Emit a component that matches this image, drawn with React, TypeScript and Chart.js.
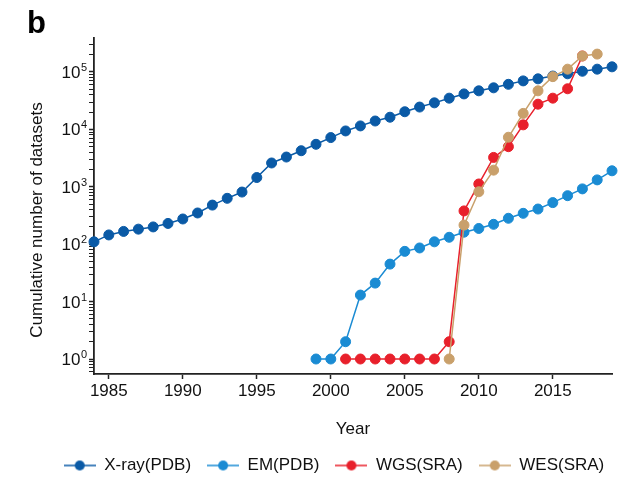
import React, { useEffect, useRef } from 'react';
import { Chart, registerables } from 'chart.js';

Chart.register(...registerables);

// ---------- data ----------
const years = [
  1984, 1985, 1986, 1987, 1988, 1989, 1990, 1991, 1992, 1993, 1994, 1995,
  1996, 1997, 1998, 1999, 2000, 2001, 2002, 2003, 2004, 2005, 2006, 2007,
  2008, 2009, 2010, 2011, 2012, 2013, 2014, 2015, 2016, 2017, 2018, 2019,
];

const xrayPDB = [
  110, 145, 167, 183, 200, 230, 275, 350, 480, 630, 810, 1450,
  2600, 3300, 4250, 5500, 7200, 9400, 11500, 14000, 16300, 20300, 24500, 29000,
  35000, 41500, 47000, 53000, 61000, 70000, 76000, 85000, 93000, 103000, 112000, 123000,
];

const emPDB = [
  null, null, null, null, null, null, null, null, null, null, null, null,
  null, null, null, 1, 1, 2, 13, 21, 45, 75, 86, 110,
  132, 162, 188, 222, 283, 345, 410, 530, 700, 920, 1320, 1900,
];

const wgsSRA = [
  null, null, null, null, null, null, null, null, null, null, null, null,
  null, null, null, null, null, 1, 1, 1, 1, 1, 1, 1,
  2, 380, 1120, 3250, 5000, 12000, 27500, 35000, 51000, 190000, null, null,
];

const wesSRA = [
  null, null, null, null, null, null, null, null, null, null, null, null,
  null, null, null, null, null, null, null, null, null, null, null, null,
  1, 215, 820, 1950, 7300, 19000, 47000, 83000, 112000, 190000, 205000, null,
];

const seriesNames = ['X-ray(PDB)', 'EM(PDB)', 'WGS(SRA)', 'WES(SRA)'];
const seriesColors = ['#0a5aa6', '#1a8bd3', '#e8202b', '#c9a06b'];

const xTickValues = [1985, 1990, 1995, 2000, 2005, 2010, 2015];
const yTickBase = '10';
const yTickExponents = ['0', '1', '2', '3', '4', '5'];

const xTitle = 'Year';
const yTitle = 'Cumulative number of datasets';
const panelLabel = 'b';

const FONT = '"Liberation Sans", Arial, Helvetica, sans-serif';

function toPoints(vals: (number | null)[]) {
  const out: { x: number; y: number }[] = [];
  vals.forEach((v, i) => {
    if (v !== null) out.push({ x: years[i], y: v });
  });
  return out;
}

function legendIcon(color: string) {
  const c = document.createElement('canvas');
  c.width = 32;
  c.height = 12;
  const ctx = c.getContext('2d')!;
  ctx.strokeStyle = color;
  ctx.lineWidth = 1.5;
  ctx.beginPath();
  ctx.moveTo(0, 6);
  ctx.lineTo(32, 6);
  ctx.stroke();
  ctx.fillStyle = color;
  ctx.beginPath();
  ctx.arc(16, 6, 5, 0, Math.PI * 2);
  ctx.fill();
  return c;
}

const extrasPlugin = {
  id: 'extras',
  afterLayout(chart: any) {
    const lg = chart.legend;
    if (lg) {
      lg.top += 5;
      lg.bottom += 5;
      lg.left += 28;
      lg.right += 28;
    }
  },
  afterDraw(chart: any) {
    const ctx = chart.ctx;
    const ca = chart.chartArea;
    const ys = chart.scales.y;
    ctx.save();
    // panel letter
    ctx.fillStyle = '#000';
    ctx.font = `bold 31px ${FONT}`;
    ctx.textAlign = 'left';
    ctx.textBaseline = 'alphabetic';
    ctx.fillText(panelLabel, 27, 33);

    // y tick labels: 10^n with raised exponent
    const right = ca.left - 7;
    ctx.fillStyle = '#111';
    yTickExponents.forEach((ex) => {
      const py = ys.getPixelForValue(Math.pow(10, Number(ex)));
      ctx.font = `11px ${FONT}`;
      const ew = ctx.measureText(ex).width;
      ctx.textAlign = 'left';
      ctx.fillText(ex, right - ew, py - 1);
      ctx.font = `17px ${FONT}`;
      ctx.textAlign = 'right';
      ctx.fillText(yTickBase, right - ew - 0.5, py + 6);
    });

    // y title
    ctx.translate(37, (ca.top + ca.bottom) / 2 + 14);
    ctx.rotate(-Math.PI / 2);
    ctx.font = `17px ${FONT}`;
    ctx.fillStyle = '#111';
    ctx.textAlign = 'center';
    ctx.textBaseline = 'middle';
    ctx.fillText(yTitle, 0, 0);
    ctx.restore();
  },
};

export default function App() {
  const ref = useRef<HTMLCanvasElement>(null);

  useEffect(() => {
    document.body.style.margin = '0';
    const canvas = ref.current!;
    const allSeries = [xrayPDB, emPDB, wgsSRA, wesSRA];
    const orders = [3, 2, 1, 0];
    const icons = seriesColors.map(legendIcon);

    const chart = new Chart(canvas, {
      type: 'line',
      data: {
        datasets: allSeries.map((vals, i) => ({
          label: seriesNames[i],
          data: toPoints(vals),
          borderColor: seriesColors[i],
          backgroundColor: seriesColors[i],
          pointBackgroundColor: seriesColors[i],
          pointBorderColor: seriesColors[i],
          pointBorderWidth: 1,
          pointRadius: 5,
          borderWidth: 1.5,
          tension: 0,
          clip: false as any,
          order: orders[i],
        })),
      },
      options: {
        responsive: false,
        animation: false,
        layout: { padding: { left: 0, right: 16, top: 38, bottom: 0 } },
        plugins: {
          tooltip: { enabled: false },
          title: { display: false },
          legend: {
            display: true,
            position: 'bottom',
            labels: {
              usePointStyle: true,
              pointStyleWidth: 32,
              padding: 16,
              color: '#111',
              font: { family: FONT, size: 17 },
              sort: (a: any, b: any) => a.datasetIndex - b.datasetIndex,
              generateLabels: (ch: any) => {
                const items = Chart.defaults.plugins.legend.labels.generateLabels(ch);
                return items.map((it: any) => ({ ...it, pointStyle: icons[it.datasetIndex] }));
              },
            },
          },
        },
        scales: {
          x: {
            type: 'linear',
            min: 1984,
            max: 2019,
            afterBuildTicks: (s: any) => {
              s.ticks = xTickValues.map((v) => ({ value: v }));
            },
            afterFit: (s: any) => {
              s.height = 62;
            },
            ticks: {
              autoSkip: false,
              maxRotation: 0,
              padding: 2,
              color: '#111',
              font: { family: FONT, size: 17 },
              callback: (v: any) => String(v),
            },
            grid: {
              drawOnChartArea: false,
              drawTicks: true,
              tickLength: 5,
              tickWidth: 1.5,
              tickColor: '#222',
            },
            border: { display: true, color: '#222', width: 1.8 },
            title: {
              display: true,
              text: xTitle,
              color: '#111',
              font: { family: FONT, size: 17 },
              padding: { top: 0, bottom: -4 },
            },
          },
          y: {
            type: 'logarithmic',
            min: 0.548,
            max: 391000,
            afterBuildTicks: (s: any) => {
              const t: any[] = [];
              for (let e = -1; e <= 5; e++) {
                for (let m = 1; m <= 9; m++) {
                  const v = m * Math.pow(10, e);
                  if (v >= 0.548 && v <= 391000) t.push({ value: v, major: m === 1 });
                }
              }
              s.ticks = t;
            },
            afterFit: (s: any) => {
              s.width = 94;
            },
            ticks: {
              autoSkip: false,
              padding: 2,
              callback: () => '',
            },
            grid: {
              drawOnChartArea: false,
              drawTicks: true,
              tickLength: 5,
              tickWidth: (c: any) => (c.tick && c.tick.major ? 1.5 : 1),
              tickColor: '#222',
            },
            border: { display: true, color: '#222', width: 1.8 },
            title: { display: false },
          },
        },
      },
      plugins: [extrasPlugin],
    } as any);

    return () => chart.destroy();
  }, []);

  return (
    <div style={{ position: 'absolute', left: 0, top: 0, width: 628, height: 479, background: '#fff' }}>
      <canvas ref={ref} width={628} height={479} style={{ display: 'block' }} />
    </div>
  );
}
